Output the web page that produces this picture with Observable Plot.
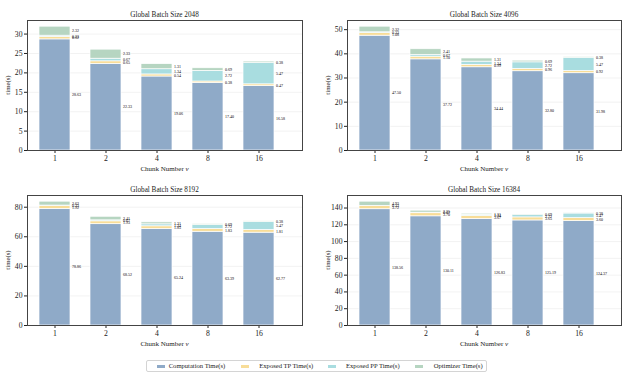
<!DOCTYPE html>
<html><head><meta charset="utf-8">
<script src="https://cdn.jsdelivr.net/npm/d3@7"></script>
<script src="https://cdn.jsdelivr.net/npm/@observablehq/plot@0.6"></script>
<style>
body{margin:0;background:#fff;}
#root{position:relative;width:632px;height:383px;font-family:"Liberation Serif",serif;overflow:hidden;}
.panel{position:absolute;}
.legend{position:absolute;left:146px;top:360px;width:341px;height:12px;border:1px solid #d4d4d4;border-radius:2px;box-sizing:border-box;font-size:6.6px;color:#222;}
.sw{position:absolute;top:3.5px;width:8px;height:3.5px;}
.lt{position:absolute;top:1.2px;white-space:nowrap;}
</style></head><body><div id="root"></div>
<script>
const chunks = ["1","2","4","8","16"];
const series = ["Computation Time(s)","Exposed TP Time(s)","Exposed PP Time(s)","Optimizer Time(s)"];
const colors = ["#8faac8","#f8dd98","#a9dde0","#b6d5c1"];
const batchSizes = [2048, 4096, 8192, 16384];

const comp2048 = [28.63, 22.33, 19.06, 17.40, 16.58];
const tp2048   = [0.62, 0.65, 0.54, 0.38, 0.47];
const pp2048   = [0.33, 0.67, 1.34, 2.72, 5.47];
const opt2048  = [2.32, 2.33, 1.31, 0.69, 0.38];

const comp4096 = [47.50, 37.72, 34.44, 32.80, 31.98];
const tp4096   = [1.08, 1.10, 0.99, 0.96, 0.92];
const pp4096   = [0.33, 0.67, 1.34, 2.72, 5.47];
const opt4096  = [2.32, 2.41, 1.31, 0.69, 0.38];

const comp8192 = [78.86, 68.52, 65.24, 63.39, 62.77];
const tp8192   = [1.92, 1.93, 1.85, 1.83, 1.81];
const pp8192   = [0.33, 0.67, 1.34, 2.72, 5.47];
const opt8192  = [2.62, 2.41, 1.31, 0.69, 0.38];

const comp16384 = [138.56, 130.11, 126.83, 125.19, 124.37];
const tp16384   = [3.72, 3.70, 3.67, 3.65, 3.60];
const pp16384   = [0.33, 0.67, 1.34, 2.72, 5.47];
const opt16384  = [4.93, 2.35, 1.31, 0.69, 0.38];

const yTicks2048 = [0,5,10,15,20,25,30];
const yTicks4096 = [0,10,20,30,40,50];
const yTicks8192 = [0,20,40,60,80];
const yTicks16384 = [0,20,40,60,80,100,120,140];

const panels = [
  {bs:2048, vals:[comp2048,tp2048,pp2048,opt2048], ticks:yTicks2048, left:0, top:0, ml:27, mr:14, yl:7.5},
  {bs:4096, vals:[comp4096,tp4096,pp4096,opt4096], ticks:yTicks4096, left:316, top:0, ml:31, mr:11, yl:11.5},
  {bs:8192, vals:[comp8192,tp8192,pp8192,opt8192], ticks:yTicks8192, left:0, top:175, ml:27, mr:14, yl:7.5},
  {bs:16384, vals:[comp16384,tp16384,pp16384,opt16384], ticks:yTicks16384, left:316, top:175, ml:31, mr:11, yl:11.5}
];

const root = document.getElementById("root");
const W = 316, H = 180, MT = 20, MB = 30;
const fmt = d3.format(".2f");

for (const p of panels) {
  const rows = [];
  chunks.forEach((c,i) => series.forEach((s,j) => rows.push({chunk:c, series:s, value:p.vals[j][i]})));
  const ymax = d3.max(chunks.map((c,i) => d3.sum(p.vals, v => v[i]))) * 1.05;
  const xr = [p.ml + 10.5, p.ml + 248.3];
  const step = (xr[1]-xr[0]) / (chunks.length - 0.4);
  const bw = step * 0.6;
  const chart = Plot.plot({
    width: W, height: H, marginLeft: p.ml, marginRight: p.mr, marginTop: MT, marginBottom: MB,
    style: {fontFamily: "Liberation Serif", fontSize: "7.7px", color: "#222", background: "transparent", overflow: "visible"},
    x: {domain: chunks, range: xr, paddingInner: 0.4, paddingOuter: 0, align: 0.5},
    y: {domain: [0, ymax]},
    color: {domain: series, range: colors},
    marks: [
      Plot.ruleY(p.ticks, {stroke: "#ececec", strokeWidth: 0.7}),
      Plot.barY(rows, {x: "chunk", y: "value", fill: "series", order: series, stroke: "white", strokeWidth: 0.7}),
      Plot.text(rows, Plot.stackY({x: "chunk", y: "value", z: "series", order: series,
        text: d => fmt(d.value), textAnchor: "start", dx: bw/2 + 1.5, fontSize: 4, fill: "#000"})),
      Plot.axisY({ticks: p.ticks, tickSize: 3, tickPadding: 2, label: null}),
      Plot.axisX({tickSize: 3, tickPadding: 2, label: null}),
      Plot.frame({stroke: "#444", strokeWidth: 1})
    ]
  });
  const div = document.createElement("div");
  div.className = "panel";
  div.style.left = p.left + "px";
  div.style.top = p.top + "px";
  div.appendChild(chart);
  root.appendChild(div);

  const svg = d3.select(chart);
  const cx = (p.ml + (W - p.mr)) / 2;
  svg.append("text").attr("x", cx).attr("y", 16.8).attr("text-anchor", "middle")
    .attr("font-size", 7.2).attr("fill", "#222").text("Global Batch Size " + p.bs);
  const xl = svg.append("text").attr("x", cx).attr("y", 170.5).attr("text-anchor", "middle")
    .attr("font-size", 7).attr("fill", "#222");
  xl.append("tspan").text("Chunk Number ");
  xl.append("tspan").attr("font-style", "italic").text("v");
  svg.append("text").attr("transform", `translate(${p.yl},${(MT + H - MB)/2}) rotate(-90)`)
    .attr("text-anchor", "middle").attr("dy", "0.35em").attr("font-size", 6.8).attr("fill", "#222").text("time(s)");
}

const legend = document.createElement("div");
legend.className = "legend";
const sx = [9.7, 94, 180.7, 268];
const tx = [21.7, 112.3, 199, 286.7];
series.forEach((s,i) => {
  const sw = document.createElement("div");
  sw.className = "sw"; sw.style.left = sx[i] + "px"; sw.style.background = colors[i];
  const t = document.createElement("div");
  t.className = "lt"; t.style.left = tx[i] + "px"; t.textContent = s;
  legend.appendChild(sw); legend.appendChild(t);
});
root.appendChild(legend);
</script></body></html>
